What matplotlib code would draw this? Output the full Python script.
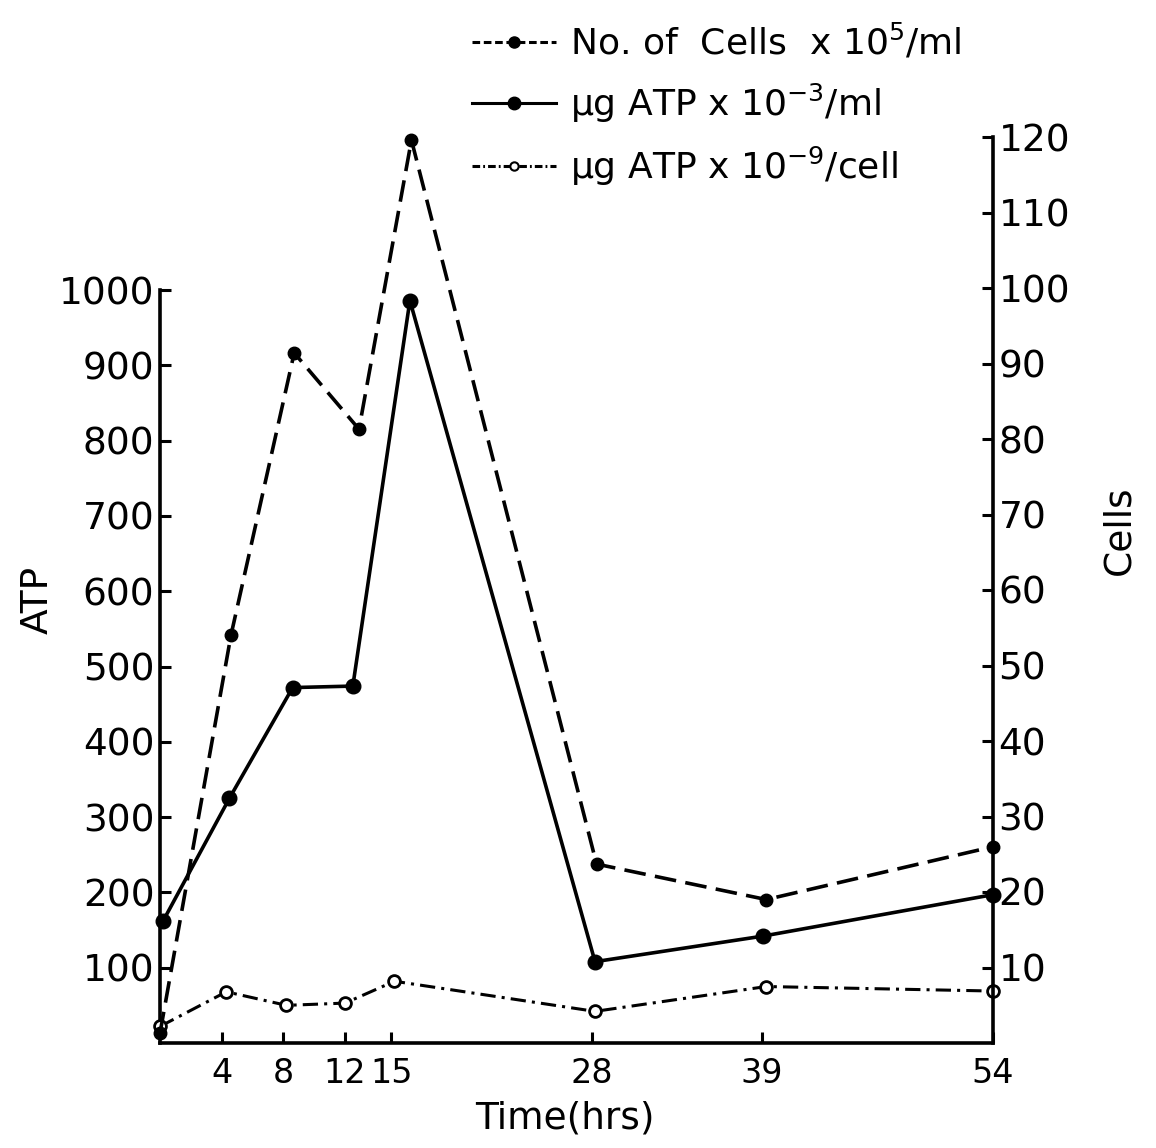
#!/usr/bin/env python3
# -*- coding: utf-8 -*-
"""
ATP and cell count over time (twin y axes)
"""

import matplotlib.pyplot as plt
from matplotlib.lines import Line2D

# time points (hrs) for each series
hours_cells = [0, 4.6, 8.7, 12.9, 16.3, 28.3, 39.3, 54]
hours_atp = [0.2, 4.5, 8.6, 12.5, 16.2, 28.2, 39.1, 54]
hours_per_cell = [0, 4.3, 8.2, 12.0, 15.2, 28.2, 39.3, 54]

# No. of cells x 10^5/ml  (right axis)
cells = [1.3, 54, 91.4, 81.3, 119.6, 23.7, 19, 26]
# ug ATP x 10^-3/ml  (left axis)
atp_per_ml = [162, 325, 472, 474, 986, 108, 142, 197]
# ug ATP x 10^-9/cell  (left axis)
atp_per_cell = [22, 68, 50, 53, 82, 42, 75, 69]

x_ticks = [4, 8, 12, 15, 28, 39, 54]
atp_ticks = list(range(100, 1001, 100))
cell_ticks = list(range(10, 121, 10))

labels = [r'No. of  Cells  x 10$^{5}$/ml',
          r'µg ATP x 10$^{-3}$/ml',
          r'µg ATP x 10$^{-9}$/cell']


def main():
    plt.rcParams['font.family'] = ['DejaVu Sans']
    plt.rcParams['mathtext.fontset'] = 'dejavusans'

    fig = plt.figure(figsize=(11.56, 11.48), dpi=100)
    # axes box in pixels: left 160, right 993, bottom 1043, top 137
    W, H = 1156, 1148
    ax = fig.add_axes([160 / W, (H - 1043) / H, 833 / W, 906 / H])
    ax2 = ax.twinx()

    # scales: 0.753 px per ATP unit, 7.555 px per cell
    ax.set_xlim(0, 54)
    ax.set_ylim(0, 906 / 0.753)
    ax2.set_ylim(0, 906 / 7.555)

    lw = 2.6
    # cells: long dashes, filled dots
    ax2.plot(hours_cells, cells, color='black', lw=lw, dashes=(6, 2.6),
             marker='o', ms=9, mfc='black', mec='black', clip_on=False, zorder=3)
    # ATP per ml: solid, filled dots
    ax.plot(hours_atp, atp_per_ml, color='black', lw=lw, ls='-',
            marker='o', ms=10.5, mfc='black', mec='black', clip_on=False, zorder=3)
    # ATP per cell: dash-dot, open circles
    ax.plot(hours_per_cell, atp_per_cell, color='black', lw=2.2,
            dashes=(5, 2, 1, 2), marker='o', ms=8.5, mfc='white', mec='black',
            mew=2, clip_on=False, zorder=3)

    # spines
    ax.spines['top'].set_visible(False)
    ax2.spines['top'].set_visible(False)
    ax2.spines['left'].set_visible(False)
    ax2.spines['bottom'].set_visible(False)
    ax.spines['right'].set_visible(False)
    ax.spines['left'].set_bounds(0, 1000)
    ax2.spines['right'].set_bounds(0, 120)
    for sp in ['left', 'bottom']:
        ax.spines[sp].set_linewidth(2.6)
    ax2.spines['right'].set_linewidth(2.6)

    fs = 27
    ax.set_xticks(x_ticks)
    ax.set_xticklabels([str(t) for t in x_ticks], fontsize=24)
    ax.set_yticks(atp_ticks)
    ax.set_yticklabels([str(t) for t in atp_ticks], fontsize=fs)
    ax2.set_yticks(cell_ticks)
    ax2.set_yticklabels([str(t) for t in cell_ticks], fontsize=fs)
    ax.tick_params(axis='both', direction='in', length=8, width=2.2, pad=4)
    ax.tick_params(axis='x', pad=10)
    ax2.tick_params(axis='y', direction='in', length=8, width=2.2, pad=4)

    ax.set_ylabel('ATP', fontsize=fs)
    ax.yaxis.set_label_coords(-0.125, 0.489)
    ax2.set_ylabel('Cells', fontsize=fs)
    ax2.yaxis.set_label_coords(1.13, 0.566)
    ax.set_xlabel('Time(hrs)', fontsize=fs)
    ax.xaxis.set_label_coords(0.486, -0.064)

    handles = [
        Line2D([], [], color='black', lw=2.2, dashes=(2.5, 1.2), marker='o',
               ms=8, mfc='black', mec='black'),
        Line2D([], [], color='black', lw=2.2, ls='-', marker='o',
               ms=9, mfc='black', mec='black'),
        Line2D([], [], color='black', lw=2.2, dashes=(2.5, 1, 0.6, 1), marker='o',
               ms=6, mfc='white', mec='black', mew=1.5),
    ]
    ax.legend(handles=handles, labels=labels, loc='upper left',
              bbox_to_anchor=(458 / W, 1 - 8 / H), bbox_transform=fig.transFigure,
              frameon=False, fontsize=26, handlelength=2.3, handletextpad=0.4,
              labelspacing=0.55, borderaxespad=0)

    fig.savefig('out.png', dpi=100)
    plt.close(fig)


if __name__ == "__main__":
    main()
